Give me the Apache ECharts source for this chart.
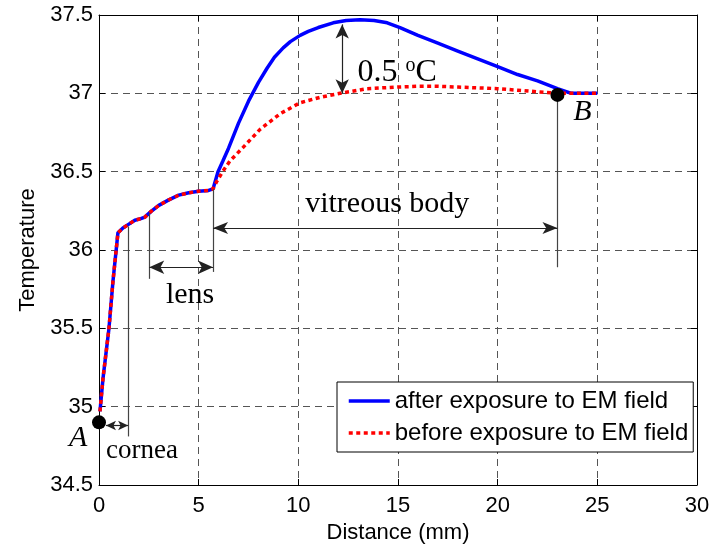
<!DOCTYPE html>
<html>
<head>
<meta charset="utf-8">
<script src="https://cdn.jsdelivr.net/npm/echarts@6/dist/echarts.min.js"></script>
<style>
  html, body { margin: 0; padding: 0; background: #fff; }
  #chart { width: 724px; height: 549px; }
</style>
</head>
<body>
<div id="chart"></div>
<script>
// temperature profile along the eye axis
const distAfter = [0.05, 0.2, 0.5, 0.7, 0.95, 1.2, 1.5, 1.8, 2.1, 2.3, 2.6, 3.0, 3.5, 4.0, 4.5, 5.0, 5.5, 5.72,
  5.97, 6.22, 6.5, 7.0, 7.5, 8.0, 8.43, 8.8, 9.24, 9.6, 10.09, 10.5, 11.0, 11.75, 12.4, 13.1, 13.8, 14.46, 15.1, 16, 17, 18, 19, 20, 21, 22, 23, 23.7, 24.2, 25];
const tempAfter = [34.97, 35.18, 35.5, 35.8, 36.11, 36.14, 36.165, 36.19, 36.2, 36.21, 36.245, 36.285, 36.32, 36.35, 36.365, 36.375, 36.38, 36.39,
  36.5, 36.57, 36.65, 36.81, 36.95, 37.07, 37.16, 37.23, 37.29, 37.33, 37.37, 37.395, 37.42, 37.45, 37.465, 37.47, 37.465, 37.45, 37.42, 37.37, 37.32, 37.27, 37.22, 37.17, 37.12, 37.08, 37.03, 37.0, 37.0, 37.0];
const distBefore = [0.05, 0.2, 0.5, 0.7, 0.95, 1.2, 1.5, 1.8, 2.1, 2.3, 2.6, 3.0, 3.5, 4.0, 4.5, 5.0, 5.5, 5.72,
  5.92, 6.2, 6.58, 7.23, 8.08, 9.09, 10.09, 11.1, 12.1, 13.45, 15, 16, 17, 18, 19, 20, 21, 22, 23, 24, 25];
const tempBefore = [34.97, 35.18, 35.5, 35.8, 36.11, 36.14, 36.165, 36.19, 36.2, 36.21, 36.245, 36.285, 36.32, 36.35, 36.365, 36.375, 36.38, 36.39,
  36.44, 36.5, 36.57, 36.655, 36.77, 36.87, 36.94, 36.975, 37.0, 37.03, 37.04, 37.045, 37.045, 37.04, 37.035, 37.03, 37.02, 37.01, 37.0, 37.0, 37.0];

const seriesNames = ['after exposure to EM field', 'before exposure to EM field'];

// annotation geometry, in data units
const markedPoints = [[0, 34.9], [23.0, 36.99]];
const guideLines = [
  [[1.46, 36.15], [1.46, 34.81]],
  [[2.52, 36.235], [2.52, 35.816]],
  [[5.72, 36.39], [5.72, 35.86]],
  [[23.0, 36.99], [23.0, 35.89]]
];
const arrowLines = [
  [[0.35, 34.88], [1.46, 34.88]],
  [[2.52, 35.89], [5.72, 35.89]],
  [[5.72, 36.14], [23.0, 36.14]],
  [[12.2, 37.44], [12.2, 37.0]]
];
const noteText = ['cornea', 'lens', 'vitreous body', '0.5 {sup|o}C', 'A', 'B'];
const notePos = [[2.16, 34.72], [4.57, 35.714], [14.46, 36.29], [14.96, 37.13], [-1.05, 34.8], [24.25, 36.88]];
const noteSize = [27, 30, 30, 32, 30, 30];
const noteItalic = [false, false, false, false, true, true];

const xTicks = { min: 0, max: 30, interval: 5 };
const yTicks = { min: 34.5, max: 37.5, interval: 0.5 };

const sans = 'Liberation Sans';
const serif = 'Liberation Serif';

const chart = echarts.init(document.getElementById('chart'));

const arrowSizes = [[7, 10], [10, 15], [9, 15], [10, 14]];

const option = {
  animation: false,
  backgroundColor: '#fff',
  grid: { left: 99, right: 27, top: 15, bottom: 62, show: false },
  legend: {
    data: seriesNames,
    orient: 'vertical',
    left: 337,
    top: 382,
    backgroundColor: '#fff',
    borderColor: '#000',
    borderWidth: 1,
    borderRadius: 0,
    padding: [7, 5, 7, 10],
    itemGap: 8,
    itemWidth: 41,
    itemHeight: 14,
    itemStyle: { opacity: 0 },
    lineStyle: { width: 3.5 },
    textStyle: { fontFamily: sans, fontSize: 24, color: '#000' }
  },
  xAxis: [
    {
      type: 'value', min: xTicks.min, max: xTicks.max, interval: xTicks.interval,
      name: 'Distance (mm)', nameLocation: 'middle', nameGap: 37,
      nameTextStyle: { fontFamily: sans, fontSize: 22, color: '#000' },
      axisLine: { show: true, onZero: false, lineStyle: { color: '#000', width: 1 } },
      axisTick: { show: true, inside: true, length: 6, lineStyle: { color: '#000' } },
      axisLabel: { fontFamily: sans, fontSize: 22, color: '#000', margin: 10 },
      splitLine: { show: true, lineStyle: { color: '#555', type: [7, 5], width: 1 } }
    },
    {
      type: 'value', position: 'top', min: xTicks.min, max: xTicks.max, interval: xTicks.interval,
      axisLine: { show: true, onZero: false, lineStyle: { color: '#000', width: 1 } },
      axisTick: { show: true, inside: true, length: 6, lineStyle: { color: '#000' } },
      axisLabel: { show: false },
      splitLine: { show: false }
    }
  ],
  yAxis: [
    {
      type: 'value', min: yTicks.min, max: yTicks.max, interval: yTicks.interval,
      name: 'Temperature', nameLocation: 'middle', nameGap: 55,
      nameTextStyle: { fontFamily: sans, fontSize: 22, color: '#000' },
      axisLine: { show: true, onZero: false, lineStyle: { color: '#000', width: 1 } },
      axisTick: { show: true, inside: true, length: 6, lineStyle: { color: '#000' } },
      axisLabel: { fontFamily: sans, fontSize: 22, color: '#000', margin: 6 },
      splitLine: { show: true, lineStyle: { color: '#555', type: [7, 5], width: 1 } }
    },
    {
      type: 'value', position: 'right', min: yTicks.min, max: yTicks.max, interval: yTicks.interval,
      axisLine: { show: true, onZero: false, lineStyle: { color: '#000', width: 1 } },
      axisTick: { show: true, inside: true, length: 6, lineStyle: { color: '#000' } },
      axisLabel: { show: false },
      splitLine: { show: false }
    }
  ],
  series: [
    {
      name: seriesNames[0],
      type: 'line',
      symbol: 'none',
      data: distAfter.map((d, i) => [d, tempAfter[i]]),
      lineStyle: { color: '#0000ff', width: 3.5 },
      itemStyle: { color: '#0000ff' },
      z: 3
    },
    {
      name: seriesNames[1],
      type: 'line',
      symbol: 'none',
      data: distBefore.map((d, i) => [d, tempBefore[i]]),
      lineStyle: { color: '#ff0000', width: 3.5, type: [4, 3.5], cap: 'butt' },
      itemStyle: { color: '#ff0000' },
      z: 4
    },
    {
      name: 'guides',
      type: 'line',
      data: [],
      markLine: {
        silent: true,
        symbol: ['none', 'none'],
        label: { show: false },
        lineStyle: { color: '#444', width: 1.2, type: 'solid' },
        data: guideLines.map(l => [{ coord: l[0] }, { coord: l[1] }])
      },
      z: 5
    },
    {
      name: 'arrows',
      type: 'line',
      data: [],
      markLine: {
        silent: true,
        symbol: ['arrow', 'arrow'],
        label: { show: false },
        lineStyle: { color: '#222', width: 1.2, type: 'solid' },
        data: arrowLines.map((l, i) => [
          { coord: l[0], symbolSize: arrowSizes[i] },
          { coord: l[1], symbolSize: arrowSizes[i] }
        ])
      },
      z: 5
    },
    {
      name: 'points',
      type: 'scatter',
      clip: false,
      symbolSize: 14,
      itemStyle: { color: '#000', opacity: 1 },
      data: markedPoints,
      z: 6
    },
    {
      name: 'notes',
      type: 'scatter',
      clip: false,
      symbolSize: 0,
      silent: true,
      itemStyle: { color: '#000', opacity: 1 },
      data: notePos.map((p, i) => ({
        value: p,
        name: noteText[i],
        label: { fontSize: noteSize[i], fontStyle: noteItalic[i] ? 'italic' : 'normal' }
      })),
      label: {
        show: true,
        position: 'inside',
        formatter: '{b}',
        fontFamily: serif,
        color: '#000',
        textBorderWidth: 0,
        rich: {
          sup: { fontFamily: serif, fontSize: 20, color: '#000', verticalAlign: 'top', padding: [0, 0, 14, 0] }
        }
      },
      z: 7
    }
  ]
};

chart.setOption(option);
</script>
</body>
</html>
